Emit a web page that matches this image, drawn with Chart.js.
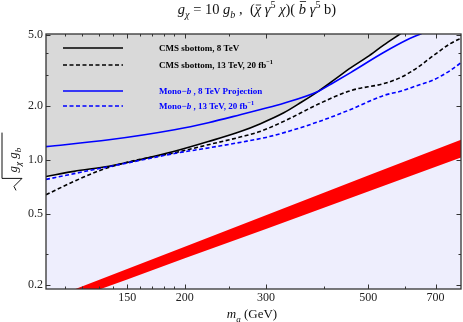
<!DOCTYPE html>
<html>
<head>
<meta charset="utf-8">
<script src="https://cdn.jsdelivr.net/npm/chart.js@4"></script>
<style>
  body { margin: 0; background: #fff; }
  #wrap { width: 463px; height: 322px; }
</style>
</head>
<body>
<div id="wrap"><canvas id="c" width="463" height="322"></canvas></div>
<script>
// CMS sbottom, 8 TeV (solid black, excluded region above it is gray)
const cms8X = [100, 115, 137, 161, 190, 225, 265, 292, 328, 357, 389, 421, 458, 498, 540, 588, 620];
const cms8Y = [0.81, 0.865, 0.925, 1.01, 1.12, 1.27, 1.45, 1.60, 1.84, 2.10, 2.42, 2.80, 3.28, 3.78, 4.40, 5.10, 5.60];

// CMS sbottom, 13 TeV, 20 fb-1 (dashed black)
const cms13X = [100, 115, 130, 145, 160, 190, 225, 265, 290, 330, 390, 458, 540, 588, 640, 693, 754, 800];
const cms13Y = [0.64, 0.76, 0.87, 0.95, 1.01, 1.10, 1.22, 1.35, 1.44, 1.66, 2.06, 2.45, 2.68, 2.90, 3.30, 3.85, 4.49, 4.85];

// Mono-b, 8 TeV projection (solid blue)
const mono8X = [100, 137, 190, 225, 265, 292, 328, 389, 421, 458, 540, 609, 660, 700];
const mono8Y = [1.19, 1.30, 1.48, 1.62, 1.80, 1.92, 2.08, 2.42, 2.72, 3.09, 4.00, 4.73, 5.18, 5.60];

// Mono-b, 13 TeV, 20 fb-1 (dashed blue)
const mono13X = [100, 115, 137, 161, 190, 225, 265, 300, 330, 390, 458, 540, 588, 640, 690, 750, 800];
const mono13Y = [0.78, 0.84, 0.92, 1.00, 1.09, 1.17, 1.26, 1.34, 1.43, 1.64, 1.92, 2.30, 2.43, 2.62, 2.80, 3.15, 3.55];

// red band
const bandX = [100, 150, 200, 300, 500, 800];
const bandLow = [0.147, 0.215, 0.282, 0.412, 0.667, 1.04];
const bandHigh = [0.164, 0.246, 0.328, 0.491, 0.819, 1.31];

const xTicks = [150, 200, 300, 500, 700];
const xMinor = [110, 120, 130, 140, 160, 170, 180, 190, 250, 400, 600];
const yTicks = [0.2, 0.5, 1, 2, 5];
const yTickText = ['0.2', '0.5', '1.0', '2.0', '5.0'];
const yMinor = [0.3, 3, 4];

const legendRows = [
	[{t: 'CMS sbottom, 8 TeV'}],
	[{t: 'CMS sbottom, 13 TeV, 20 fb'}, {t: '\u22121', sup: true}],
	[{t: 'Mono\u2212'}, {t: 'b', it: true}, {t: ' , 8 TeV Projection'}],
	[{t: 'Mono\u2212'}, {t: 'b', it: true}, {t: ' , 13 TeV, 20 fb'}, {t: '\u22121', sup: true}]
];
const legendSets = [3, 2, 0, 1];
const legendY = [48, 65, 91, 106];

const titleSegs = [
	{t: 'g', it: true}, {t: '\u03c7', it: true, sub: true}, {t: ' = 10 '}, {t: 'g', it: true}, {t: 'b', it: true, sub: true},
	{t: ' ,  ('}, {t: '\u03c7', it: true, ol: 0.62}, {t: ' '}, {t: '\u03b3', it: true}, {t: '5', sup: true},
	{t: ' '}, {t: '\u03c7', it: true}, {t: ')( '}, {t: 'b', it: true, ol: 0.86}, {t: ' '},
	{t: '\u03b3', it: true}, {t: '5', sup: true}, {t: ' b)'}
];
const xLabelSegs = [{t: 'm', it: true}, {t: 'a', it: true, sub: true}, {t: ' (GeV)'}];
const yLabelSegs = [{t: 'g', it: true}, {t: '\u03c7', it: true, sub: true}, {t: ' '}, {t: 'g', it: true}, {t: 'b', it: true, sub: true}];

const FAM = "'Liberation Serif', 'Times New Roman', serif";

function pts(xs, ys) {
	return xs.map((x, i) => ({x: x, y: ys[i]}));
}

function segFont(s, size, bold) {
	let sz = (s.sub || s.sup) ? size * 0.7 : size;
	return (bold ? 'bold ' : '') + (s.it ? 'italic ' : '') + sz + 'px ' + FAM;
}

function richWidth(ctx, segs, size, bold) {
	let w = 0;
	for (let s of segs) {
		ctx.font = segFont(s, size, bold);
		w += ctx.measureText(s.t).width;
	}
	return w;
}

function drawRich(ctx, segs, x, y, size, bold, color) {
	ctx.fillStyle = color;
	ctx.strokeStyle = color;
	ctx.textBaseline = 'alphabetic';
	ctx.textAlign = 'left';
	for (let s of segs) {
		ctx.font = segFont(s, size, bold);
		let w = ctx.measureText(s.t).width;
		let dy = s.sub ? size * 0.28 : (s.sup ? -size * 0.4 : 0);
		ctx.fillText(s.t, x, y + dy);
		if (s.ol) {
			ctx.lineWidth = 0.8;
			ctx.beginPath();
			ctx.moveTo(x + 1, y - size * s.ol);
			ctx.lineTo(x + w, y - size * s.ol);
			ctx.stroke();
		}
		x += w;
	}
	return x;
}

const framePlugin = {
	id: 'frame',
	beforeDraw(chart) {
		let a = chart.chartArea, ctx = chart.ctx;
		ctx.save();
		ctx.fillStyle = '#eeeefd';
		ctx.fillRect(a.left, a.top, a.right - a.left, a.bottom - a.top);
		ctx.restore();
	},
	afterDraw(chart) {
		let a = chart.chartArea, ctx = chart.ctx;
		let xs = chart.scales.x, ys = chart.scales.y;
		ctx.save();

		// inward ticks on all four sides
		ctx.strokeStyle = '#333';
		ctx.lineWidth = 1;
		ctx.beginPath();
		function xt(v, len) {
			let p = Math.round(xs.getPixelForValue(v)) + 0.5;
			ctx.moveTo(p, a.bottom); ctx.lineTo(p, a.bottom - len);
			ctx.moveTo(p, a.top); ctx.lineTo(p, a.top + len);
		}
		function yt(v, len) {
			let p = Math.round(ys.getPixelForValue(v)) + 0.5;
			ctx.moveTo(a.left, p); ctx.lineTo(a.left + len, p);
			ctx.moveTo(a.right, p); ctx.lineTo(a.right - len, p);
		}
		xTicks.forEach(v => xt(v, 4.5));
		xMinor.forEach(v => xt(v, 2.5));
		yTicks.forEach(v => yt(v, 4.5));
		yMinor.forEach(v => yt(v, 2.5));
		ctx.stroke();

		ctx.lineWidth = 1.3;
		ctx.strokeRect(a.left, a.top, a.right - a.left, a.bottom - a.top);

		// legend inside the plot
		legendSets.forEach((di, i) => {
			let ds = chart.data.datasets[di];
			let y = legendY[i];
			ctx.strokeStyle = ds.borderColor;
			ctx.lineWidth = ds.borderWidth;
			ctx.setLineDash(ds.borderDash || []);
			ctx.beginPath();
			ctx.moveTo(63, y);
			ctx.lineTo(123, y);
			ctx.stroke();
			ctx.setLineDash([]);
			drawRich(ctx, legendRows[i], 159, y + 3, 9, true, ds.borderColor);
		});

		// title
		let tw = richWidth(ctx, titleSegs, 14.5, false);
		drawRich(ctx, titleSegs, 257 - tw / 2, 14, 14.5, false, '#111');

		// x label
		let xw = richWidth(ctx, xLabelSegs, 13, false);
		drawRich(ctx, xLabelSegs, 252 - xw / 2, 318, 13, false, '#111');

		// y label with radical sign
		ctx.translate(17, 150);
		ctx.rotate(-Math.PI / 2);
		let yw = richWidth(ctx, yLabelSegs, 13, false);
		let x0 = -yw / 2 + 4;
		ctx.strokeStyle = '#111';
		ctx.lineWidth = 1;
		ctx.beginPath();
		ctx.moveTo(x0 - 32, -1);
		ctx.lineTo(x0 - 28, -3);
		ctx.lineTo(x0 - 20, 5);
		ctx.lineTo(x0 - 20, -15);
		ctx.lineTo(x0 + yw + 1, -15);
		ctx.stroke();
		drawRich(ctx, yLabelSegs, x0 - 14, 0, 13, false, '#111');

		ctx.restore();
	}
};

const ctx = document.getElementById('c').getContext('2d');
new Chart(ctx, {
	type: 'line',
	data: {
		datasets: [
			{
				label: 'Mono-b , 8 TeV Projection',
				data: pts(mono8X, mono8Y),
				borderColor: '#0000ff',
				borderWidth: 1.6,
				cubicInterpolationMode: 'monotone',
				fill: false
			},
			{
				label: 'Mono-b , 13 TeV, 20 fb-1',
				data: pts(mono13X, mono13Y),
				borderColor: '#0000ff',
				borderWidth: 1.6,
				borderDash: [4, 2.5],
				cubicInterpolationMode: 'monotone',
				fill: false
			},
			{
				label: 'CMS sbottom, 13 TeV, 20 fb-1',
				data: pts(cms13X, cms13Y),
				borderColor: '#000000',
				borderWidth: 1.6,
				borderDash: [4, 2.5],
				cubicInterpolationMode: 'monotone',
				fill: false
			},
			{
				label: 'CMS sbottom, 8 TeV',
				data: pts(cms8X, cms8Y),
				borderColor: '#000000',
				borderWidth: 1.6,
				cubicInterpolationMode: 'monotone',
				fill: 'end',
				backgroundColor: '#d9d9d9'
			},
			{
				label: 'band high',
				data: pts(bandX, bandHigh),
				borderWidth: 0,
				borderColor: 'rgba(0,0,0,0)',
				backgroundColor: '#ff0000',
				fill: '+1'
			},
			{
				label: 'band low',
				data: pts(bandX, bandLow),
				borderWidth: 0,
				borderColor: 'rgba(0,0,0,0)',
				fill: false
			}
		]
	},
	options: {
		responsive: false,
		devicePixelRatio: 1,
		animation: false,
		layout: {
			padding: {top: 34, right: 2, left: 0, bottom: 0}
		},
		elements: {
			point: {radius: 0}
		},
		plugins: {
			legend: {display: false},
			tooltip: {enabled: false},
			filler: {drawTime: 'beforeDatasetsDraw'}
		},
		scales: {
			x: {
				type: 'logarithmic',
				min: 100,
				max: 795,
				grid: {display: false, drawTicks: false},
				border: {display: false},
				afterBuildTicks: s => { s.ticks = xTicks.map(v => ({value: v})); },
				afterFit: s => { s.height = 33; },
				ticks: {
					autoSkip: false,
					maxRotation: 0,
					padding: 2,
					color: '#222',
					font: {family: FAM, size: 12},
					callback: (v) => String(v)
				}
			},
			y: {
				type: 'logarithmic',
				min: 0.19,
				max: 5.08,
				grid: {display: false, drawTicks: false},
				border: {display: false},
				afterBuildTicks: s => { s.ticks = yTicks.map(v => ({value: v})); },
				afterFit: s => { s.width = 46; },
				ticks: {
					autoSkip: false,
					padding: 3,
					color: '#222',
					font: {family: FAM, size: 12},
					callback: (v, i) => yTickText[i]
				}
			}
		}
	},
	plugins: [framePlugin]
});
</script>
</body>
</html>
